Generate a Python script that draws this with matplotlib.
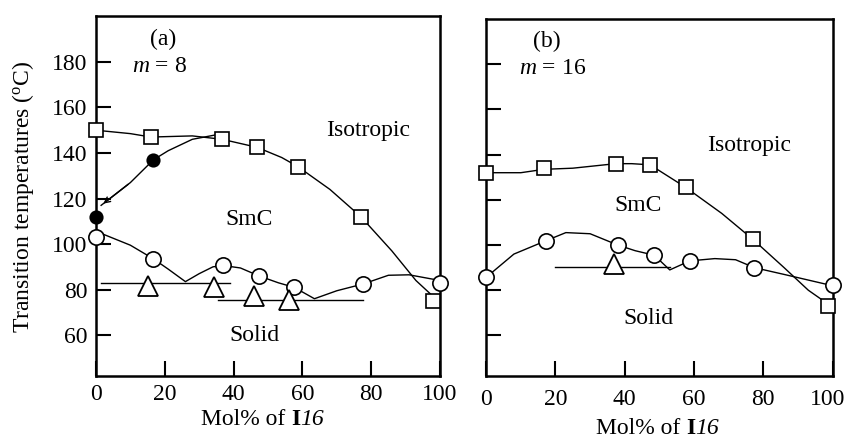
import matplotlib
matplotlib.use('Agg')
import matplotlib.pyplot as plt
import matplotlib.transforms as mtrans

plt.rcParams['font.family'] = ['Liberation Serif', 'DejaVu Serif']
plt.rcParams['mathtext.fontset'] = 'custom'
plt.rcParams['mathtext.rm'] = 'Liberation Serif'
plt.rcParams['mathtext.it'] = 'Liberation Serif:italic'
plt.rcParams['mathtext.bf'] = 'Liberation Serif:bold'

# ---- (a) m = 8 ----
a_sq_x = [0, 16, 36.7, 46.8, 58.7, 77, 98]
a_sq_y = [150, 147, 146, 142.5, 134, 112, 75]
a_fill_x = [0, 16.7]
a_fill_y = [112, 137]
a_circ_x = [0, 16.7, 36.9, 47.4, 57.6, 77.7, 100]
a_circ_y = [103, 93.5, 90.6, 86, 81, 82.5, 83]
a_tri_x = [15.1, 34.3, 45.8, 56]
a_tri_y = [81.6, 81.2, 77.4, 75.3]

# phase boundary lines
a_iso_x = [0, 10, 16, 28, 36.7, 46.8, 54, 58.7, 68, 77, 86, 93, 98]
a_iso_y = [150, 148.5, 147, 147.5, 146, 142.5, 138, 134, 124, 112, 97, 84, 77]
a_mono_x = [35, 28, 21, 16.7, 10, 1.5]
a_mono_y = [148, 146, 141, 137, 127, 117]
a_smc_x = [1, 10, 16.7, 21, 26, 30, 34, 36.9, 42, 47.4, 53, 57.6, 63.5, 70, 77.7, 85, 91, 100]
a_smc_y = [105, 99.5, 93.5, 89, 83.5, 87, 90, 90.6, 89.5, 86, 83, 81, 76, 79.5, 82.5, 86.3, 86.5, 84]
a_h1_x = [1.5, 39]
a_h1_y = [83, 83]
a_h2_x = [35.5, 77.5]
a_h2_y = [75.5, 75.5]

# ---- (b) m = 16 ----
b_sq_x = [0, 16.7, 37.4, 47.3, 57.6, 77, 98.6]
b_sq_y = [132, 134, 136, 135.5, 125.5, 102.5, 73]
b_circ_x = [0, 17.4, 38, 48.5, 58.8, 77.4, 100]
b_circ_y = [86, 102, 100, 95.5, 93, 90, 82.5]
b_tri_x = [37]
b_tri_y = [91.5]

b_iso_x = [1, 10, 16.7, 25, 37.4, 42, 47.3, 57.6, 68, 77, 86, 93, 98.6]
b_iso_y = [132, 132, 133.5, 134, 136, 136, 135.5, 125.5, 114, 102.5, 90, 80, 74]
b_smc_x = [1, 8, 17.4, 23, 30, 38, 43, 48.5, 53, 58.8, 66, 72, 77.4, 86, 100]
b_smc_y = [87, 96, 102, 105.5, 105, 100, 97.5, 95.5, 89, 93, 94, 93.5, 90, 87, 82]
b_h_x = [20, 53]
b_h_y = [90.5, 90.5]

yticks = [60, 80, 100, 120, 140, 160, 180]
xticks = [0, 20, 40, 60, 80, 100]

fs = 17

fig = plt.figure(figsize=(8.47, 4.42), dpi=100)
ax1 = fig.add_axes([0.1133, 0.149, 0.4062, 0.814])
ax2 = fig.add_axes([0.574, 0.149, 0.409, 0.808])

lk = dict(color='black', lw=1.0)
mk = dict(ls='none', color='black', clip_on=False, zorder=3)

for ax in (ax1, ax2):
    ax.set_xlim(0, 100)
    ax.set_ylim(42, 200)
    ax.set_xticks(xticks)
    ax.set_yticks(yticks)
    ax.tick_params(direction='in', length=11, width=1.5, labelsize=fs,
                   top=False, right=False, pad=6)
    for s in ax.spines.values():
        s.set_linewidth(1.8)

ax2.set_yticklabels([])
ax2.tick_params(axis='x', pad=9)
# nudge the last "100" a little left so it stays inside the figure
last = ax2.get_xticklabels()[-1]
last.set_transform(last.get_transform() + mtrans.ScaledTranslation(-5 / 100, 0, fig.dpi_scale_trans))

# panel (a)
ax1.plot(a_iso_x, a_iso_y, **lk)
ax1.plot(a_mono_x, a_mono_y, **lk)
ax1.annotate('', xy=(a_mono_x[-1], a_mono_y[-1]), xytext=(a_mono_x[-2], a_mono_y[-2]),
             arrowprops=dict(arrowstyle='->', color='black', lw=1.0))
ax1.plot(a_smc_x, a_smc_y, **lk)
ax1.plot(a_h1_x, a_h1_y, **lk)
ax1.plot(a_h2_x, a_h2_y, **lk)
ax1.plot(a_sq_x, a_sq_y, marker='s', ms=10, mfc='white', mew=1.2, **mk)
ax1.plot(a_circ_x, a_circ_y, marker='o', ms=11, mfc='white', mew=1.2, **mk)
ax1.plot(a_fill_x, a_fill_y, marker='o', ms=9, mfc='black', mew=1.2, **mk)
ax1.plot(a_tri_x, a_tri_y, marker='^', ms=15, mfc='white', mew=1.3, **mk)

ax1.text(19.5, 190, '(a)', fontsize=fs, ha='center', va='center')
ax1.text(18.6, 178, r'$m$ = 8', fontsize=fs, ha='center', va='center')
ax1.text(79, 150, 'Isotropic', fontsize=fs, ha='center', va='center')
ax1.text(44.5, 111, 'SmC', fontsize=fs, ha='center', va='center')
ax1.text(46, 60, 'Solid', fontsize=fs, ha='center', va='center')

# panel (b)
ax2.plot(b_iso_x, b_iso_y, **lk)
ax2.plot(b_smc_x, b_smc_y, **lk)
ax2.plot(b_h_x, b_h_y, **lk)
ax2.plot(b_sq_x, b_sq_y, marker='s', ms=10, mfc='white', mew=1.2, **mk)
ax2.plot(b_circ_x, b_circ_y, marker='o', ms=11, mfc='white', mew=1.2, **mk)
ax2.plot(b_tri_x, b_tri_y, marker='^', ms=15, mfc='white', mew=1.3, **mk)

ax2.text(17.6, 190, '(b)', fontsize=fs, ha='center', va='center')
ax2.text(19.3, 178, r'$m$ = 16', fontsize=fs, ha='center', va='center')
ax2.text(76, 144, 'Isotropic', fontsize=fs, ha='center', va='center')
ax2.text(43.8, 117.7, 'SmC', fontsize=fs, ha='center', va='center')
ax2.text(46.7, 67.6, 'Solid', fontsize=fs, ha='center', va='center')

fig.text(23 / 847, 1 - 197 / 442, r'Transition temperatures ($^{\rm o}$C)', fontsize=fs,
         rotation=90, ha='center', va='center')

# x labels: "Mol% of " + bold I + italic 16
for xc, yc in [(201 / 847, 1 - 430 / 442), (596 / 847, 1 - 439 / 442)]:
    t1 = fig.text(xc, yc, 'Mol% of ', fontsize=fs, ha='left', va='bottom')
    t2 = fig.add_artist(plt.Annotation('I', xy=(1, 0), xycoords=t1, fontsize=fs,
                                       fontweight='bold', ha='left', va='bottom'))
    fig.add_artist(plt.Annotation('16', xy=(1, 0), xycoords=t2, fontsize=fs,
                                  fontstyle='italic', ha='left', va='bottom'))

fig.savefig('out.png', dpi=100)
